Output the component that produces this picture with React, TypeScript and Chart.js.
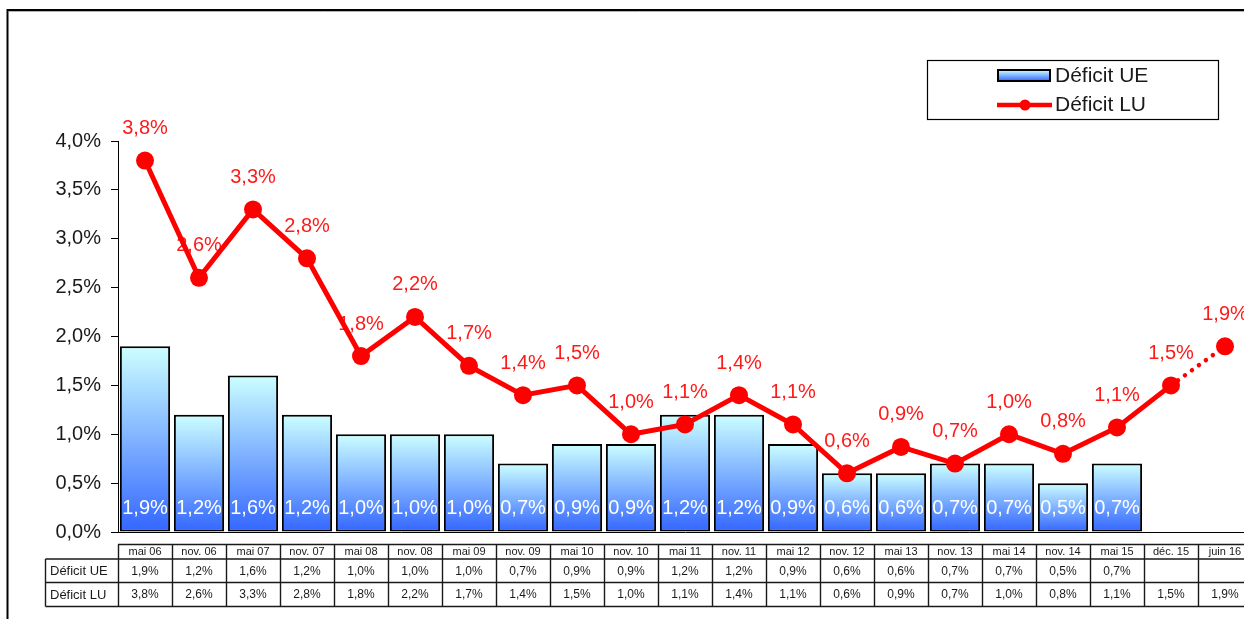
import React, { useEffect, useRef } from "react";
import { Chart, registerables } from "chart.js";

Chart.register(...registerables);

const categories = [
  "mai 06", "nov. 06", "mai 07", "nov. 07", "mai 08", "nov. 08", "mai 09",
  "nov. 09", "mai 10", "nov. 10", "mai 11", "nov. 11", "mai 12", "nov. 12",
  "mai 13", "nov. 13", "mai 14", "nov. 14", "mai 15", "déc. 15", "juin 16",
];
const deficitUE: (number | null)[] = [
  1.9, 1.2, 1.6, 1.2, 1.0, 1.0, 1.0, 0.7, 0.9, 0.9, 1.2, 1.2, 0.9, 0.6, 0.6,
  0.7, 0.7, 0.5, 0.7, null, null,
];
const deficitLU: number[] = [
  3.8, 2.6, 3.3, 2.8, 1.8, 2.2, 1.7, 1.4, 1.5, 1.0, 1.1, 1.4, 1.1, 0.6, 0.87,
  0.7, 1.0, 0.8, 1.07, 1.5, 1.9,
];
const seriesNames = ["Déficit UE", "Déficit LU"];
const yMin = 0;
const yMax = 4;
const yStep = 0.5;

const FONT = "'Liberation Sans', Arial, sans-serif";
const fmt = (v: number) => v.toFixed(1).replace(".", ",") + "%";

const W = 1270;
const H = 619;

const barGradient = (ctx: CanvasRenderingContext2D, top: number, bottom: number) => {
  const g = ctx.createLinearGradient(0, top, 0, bottom);
  g.addColorStop(0, "#ccffff");
  g.addColorStop(1, "#3366ff");
  return g;
};

const decorPlugin = {
  id: "decor",
  beforeDraw(chart: any) {
    const ctx = chart.ctx;
    ctx.save();
    ctx.fillStyle = "#ffffff";
    ctx.fillRect(0, 0, chart.width, chart.height);
    ctx.strokeStyle = "#000";
    ctx.lineWidth = 2;
    ctx.strokeRect(7.5, 10, chart.width + 50, chart.height + 50);
    ctx.strokeStyle = "#b0b0b0";
    ctx.lineWidth = 1;
    ctx.beginPath();
    ctx.moveTo(9, 11.5);
    ctx.lineTo(chart.width, 11.5);
    ctx.stroke();
    ctx.restore();
  },
  afterDatasetDraw(chart: any, args: any) {
    if (args.index !== 0) return;
    const ctx = chart.ctx;
    const y = chart.scales.y;
    const x = chart.scales.x;
    ctx.save();
    ctx.font = `20px ${FONT}`;
    ctx.textAlign = "center";
    ctx.textBaseline = "middle";
    // bar labels
    ctx.fillStyle = "#ffffff";
    deficitUE.forEach((v, i) => {
      if (v == null) return;
      ctx.fillText(fmt(v), x.getPixelForValue(i), y.getPixelForValue(0) - 24);
    });
    // line labels
    ctx.fillStyle = "#ff1a1a";
    deficitLU.forEach((v, i) => {
      ctx.fillText(fmt(v), x.getPixelForValue(i), y.getPixelForValue(v) - 32);
    });
    ctx.restore();
  },
  afterDraw(chart: any) {
    const ctx = chart.ctx;
    const x = chart.scales.x;
    const area = chart.chartArea;
    const n = categories.length;
    const cw = (area.right - area.left) / n;
    ctx.save();
    // data table
    const tTop = 544.5;
    const r1 = 559;
    const r2 = 582.5;
    const tBottom = 606.5;
    const labelLeft = 45.5;
    ctx.strokeStyle = "#1a1a1a";
    ctx.lineWidth = 1.4;
    ctx.beginPath();
    ctx.moveTo(area.left, tTop);
    ctx.lineTo(area.right, tTop);
    ctx.moveTo(labelLeft, r1);
    ctx.lineTo(area.right, r1);
    ctx.moveTo(labelLeft, r2);
    ctx.lineTo(area.right, r2);
    ctx.moveTo(labelLeft, tBottom);
    ctx.lineTo(area.right, tBottom);
    ctx.moveTo(labelLeft, r1);
    ctx.lineTo(labelLeft, tBottom);
    for (let i = 0; i <= n; i++) {
      const px = Math.round(area.left + i * cw) + 0.5;
      ctx.moveTo(px, tTop);
      ctx.lineTo(px, tBottom);
    }
    ctx.stroke();
    ctx.fillStyle = "#1a1a1a";
    ctx.textBaseline = "middle";
    ctx.textAlign = "center";
    ctx.font = `11px ${FONT}`;
    categories.forEach((c, i) => {
      ctx.fillText(c, x.getPixelForValue(i), (tTop + r1) / 2 + 0.5);
    });
    ctx.font = `12px ${FONT}`;
    deficitUE.forEach((v, i) => {
      if (v == null) return;
      ctx.fillText(fmt(v), x.getPixelForValue(i), (r1 + r2) / 2 + 0.5);
    });
    deficitLU.forEach((v, i) => {
      ctx.fillText(fmt(v), x.getPixelForValue(i), (r2 + tBottom) / 2 + 0.5);
    });
    ctx.textAlign = "left";
    ctx.font = `13px ${FONT}`;
    ctx.fillText(seriesNames[0], 50, (r1 + r2) / 2 + 0.5);
    ctx.fillText(seriesNames[1], 50, (r2 + tBottom) / 2 + 0.5);

    // legend
    ctx.fillStyle = "#ffffff";
    ctx.fillRect(927.5, 60.5, 291, 59);
    ctx.strokeStyle = "#000";
    ctx.lineWidth = 1.2;
    ctx.strokeRect(927.5, 60.5, 291, 59);
    ctx.fillStyle = barGradient(ctx, 70, 81);
    ctx.fillRect(998, 70, 52, 11);
    ctx.lineWidth = 2;
    ctx.strokeRect(998, 70, 52, 11);
    ctx.strokeStyle = "#ff0000";
    ctx.lineWidth = 4.5;
    ctx.beginPath();
    ctx.moveTo(997, 105);
    ctx.lineTo(1052, 105);
    ctx.stroke();
    ctx.fillStyle = "#ff0000";
    ctx.beginPath();
    ctx.arc(1025, 105, 5.5, 0, Math.PI * 2);
    ctx.fill();
    ctx.fillStyle = "#1a1a1a";
    ctx.font = `21px ${FONT}`;
    ctx.textAlign = "left";
    ctx.fillText(seriesNames[0], 1055, 76);
    ctx.fillText(seriesNames[1], 1055, 105);
    ctx.restore();
  },
};

export default function App() {
  const ref = useRef<HTMLCanvasElement | null>(null);
  useEffect(() => {
    if (!ref.current) return;
    const chart = new Chart(ref.current, {
      type: "bar",
      data: {
        labels: categories,
        datasets: [
          {
            type: "bar",
            label: seriesNames[0],
            data: deficitUE,
            order: 1,
            borderColor: "#000000",
            borderWidth: 2,
            borderSkipped: false,
            barPercentage: 0.93,
            categoryPercentage: 1,
            backgroundColor: (c: any) => {
              const chart = c.chart;
              if (c.type !== "data" || !chart.chartArea || c.parsed == null || c.parsed.y == null) return "#88aaff";
              const ys = chart.scales.y;
              return barGradient(chart.ctx, ys.getPixelForValue(c.parsed.y), ys.getPixelForValue(0));
            },
          } as any,
          {
            type: "line",
            label: seriesNames[1],
            data: deficitLU,
            order: 0,
            borderColor: "#ff0000",
            backgroundColor: "#ff0000",
            borderWidth: 5,
            pointRadius: 9,
            pointBackgroundColor: "#ff0000",
            pointBorderWidth: 0,
            tension: 0,
            segment: {
              borderDash: (s: any) => (s.p0DataIndex === 19 ? [0.01, 8.6] : undefined),
              borderCapStyle: (s: any) => (s.p0DataIndex === 19 ? "round" : "butt"),
              borderWidth: (s: any) => (s.p0DataIndex === 19 ? 4.5 : 5),
            },
          } as any,
        ],
      },
      options: {
        responsive: false,
        animation: false,
        devicePixelRatio: 1,
        layout: { padding: { left: 0, right: W - 1252, top: 141, bottom: H - 532 } },
        plugins: {
          legend: { display: false },
          tooltip: { enabled: false },
        },
        scales: {
          x: {
            display: true,
            offset: true,
            ticks: { display: false },
            grid: { drawOnChartArea: false, drawTicks: false },
            border: { display: true, color: "#000", width: 1 },
            afterFit: (s: any) => {
              s.height = 0;
            },
          },
          y: {
            min: yMin,
            max: yMax,
            ticks: {
              stepSize: yStep,
              padding: 10,
              color: "#1a1a1a",
              font: { family: FONT, size: 20 },
              callback: (v: any) => fmt(Number(v)),
            },
            grid: { drawOnChartArea: false, drawTicks: true, tickLength: 7, color: "#000" },
            border: { display: true, color: "#000", width: 1 },
            afterFit: (s: any) => {
              s.width = 118;
            },
          },
        },
      },
      plugins: [decorPlugin],
    });
    return () => chart.destroy();
  }, []);
  return (
    <div style={{ position: "fixed", left: 0, top: 0, width: 1244, height: 619, overflow: "hidden", background: "#fff" }}>
      <canvas ref={ref} width={W} height={H} style={{ display: "block", width: W, height: H }} />
    </div>
  );
}
